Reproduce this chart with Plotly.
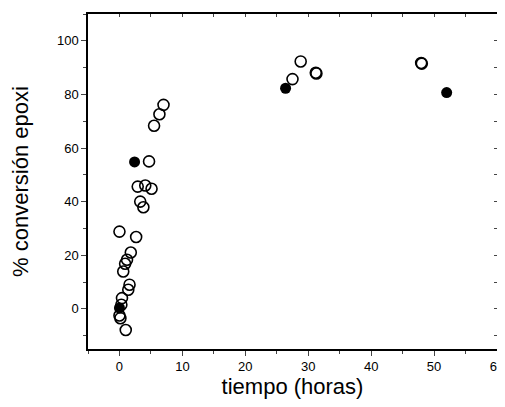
import plotly.graph_objects as go

# open circles
open_x = [7.0, 6.35, 5.5, 4.7, 2.9, 4.1, 5.1, 3.3, 3.8, 0.0, 2.65, 1.8, 1.2, 0.9, 0.6,
          1.6, 1.4, 0.4, 0.3, 0.0, 0.15, 1.0,
          27.5, 28.8, 31.2, 31.3, 47.95, 48.05]
open_y = [76.1, 72.6, 68.3, 55.0, 45.6, 46.0, 44.8, 40.0, 37.9, 28.8, 26.8, 21.0, 18.3, 16.8, 13.9,
          9.0, 7.1, 4.0, 1.5, -2.5, -3.5, -7.9,
          85.7, 92.3, 88.1, 87.8, 91.7, 91.5]
# filled circles
fill_x = [0.0, 2.4, 26.4, 52.0]
fill_y = [0.3, 54.8, 82.3, 80.7]

x_range = [-5, 60]
y_range = [-15, 110]

fig = go.Figure()
fig.add_trace(go.Scatter(x=open_x, y=open_y, mode="markers",
                         marker=dict(symbol="circle-open", size=11, color="black",
                                     line=dict(width=1.6, color="black")),
                         showlegend=False))
fig.add_trace(go.Scatter(x=fill_x, y=fill_y, mode="markers",
                         marker=dict(symbol="circle", size=11, color="black"),
                         showlegend=False))
# overlay axes for inner ticks on top/right
fig.add_trace(go.Scatter(x=[None], y=[None], xaxis="x2", yaxis="y2", showlegend=False))

font = "Liberation Sans, Arial, sans-serif"
# page body has an 8px default margin, so the figure is drawn smaller and shifted
fig.update_layout(
    width=497, height=391,
    margin=dict(l=80, r=8, t=6, b=50),
    plot_bgcolor="white", paper_bgcolor="white",
    font=dict(family=font, color="black", size=13),
    xaxis=dict(range=x_range, dtick=10, tick0=0, ticks="outside", ticklen=5, tickwidth=1,
               minor=dict(dtick=5, ticks="outside", ticklen=3, tickwidth=1),
               showgrid=False, zeroline=False, showline=True, linecolor="black", linewidth=1.5,
               tickfont=dict(size=13), automargin=False, ticklabeloverflow="allow",
               title=dict(text="tiempo (horas)", font=dict(size=22), standoff=12)),
    yaxis=dict(range=y_range, dtick=20, tick0=0, ticks="outside", ticklen=5, tickwidth=1,
               minor=dict(dtick=10, ticks="outside", ticklen=3, tickwidth=1),
               showgrid=False, zeroline=False, showline=True, linecolor="black", linewidth=1.5,
               tickfont=dict(size=13), automargin=False,
               title=dict(text="% conversión epoxi", font=dict(size=22), standoff=24)),
    xaxis2=dict(range=x_range, overlaying="x", side="top", anchor="y", dtick=5, tick0=0,
                ticks="inside", ticklen=3, tickwidth=1, showticklabels=False, automargin=False,
                showgrid=False, zeroline=False, showline=True, linecolor="black", linewidth=1.5),
    yaxis2=dict(range=y_range, overlaying="y", side="right", anchor="x", dtick=10, tick0=0,
                ticks="inside", ticklen=3, tickwidth=1, showticklabels=False, automargin=False,
                showgrid=False, zeroline=False, showline=True, linecolor="black", linewidth=1.5),
)

fig.write_html("out.html")
